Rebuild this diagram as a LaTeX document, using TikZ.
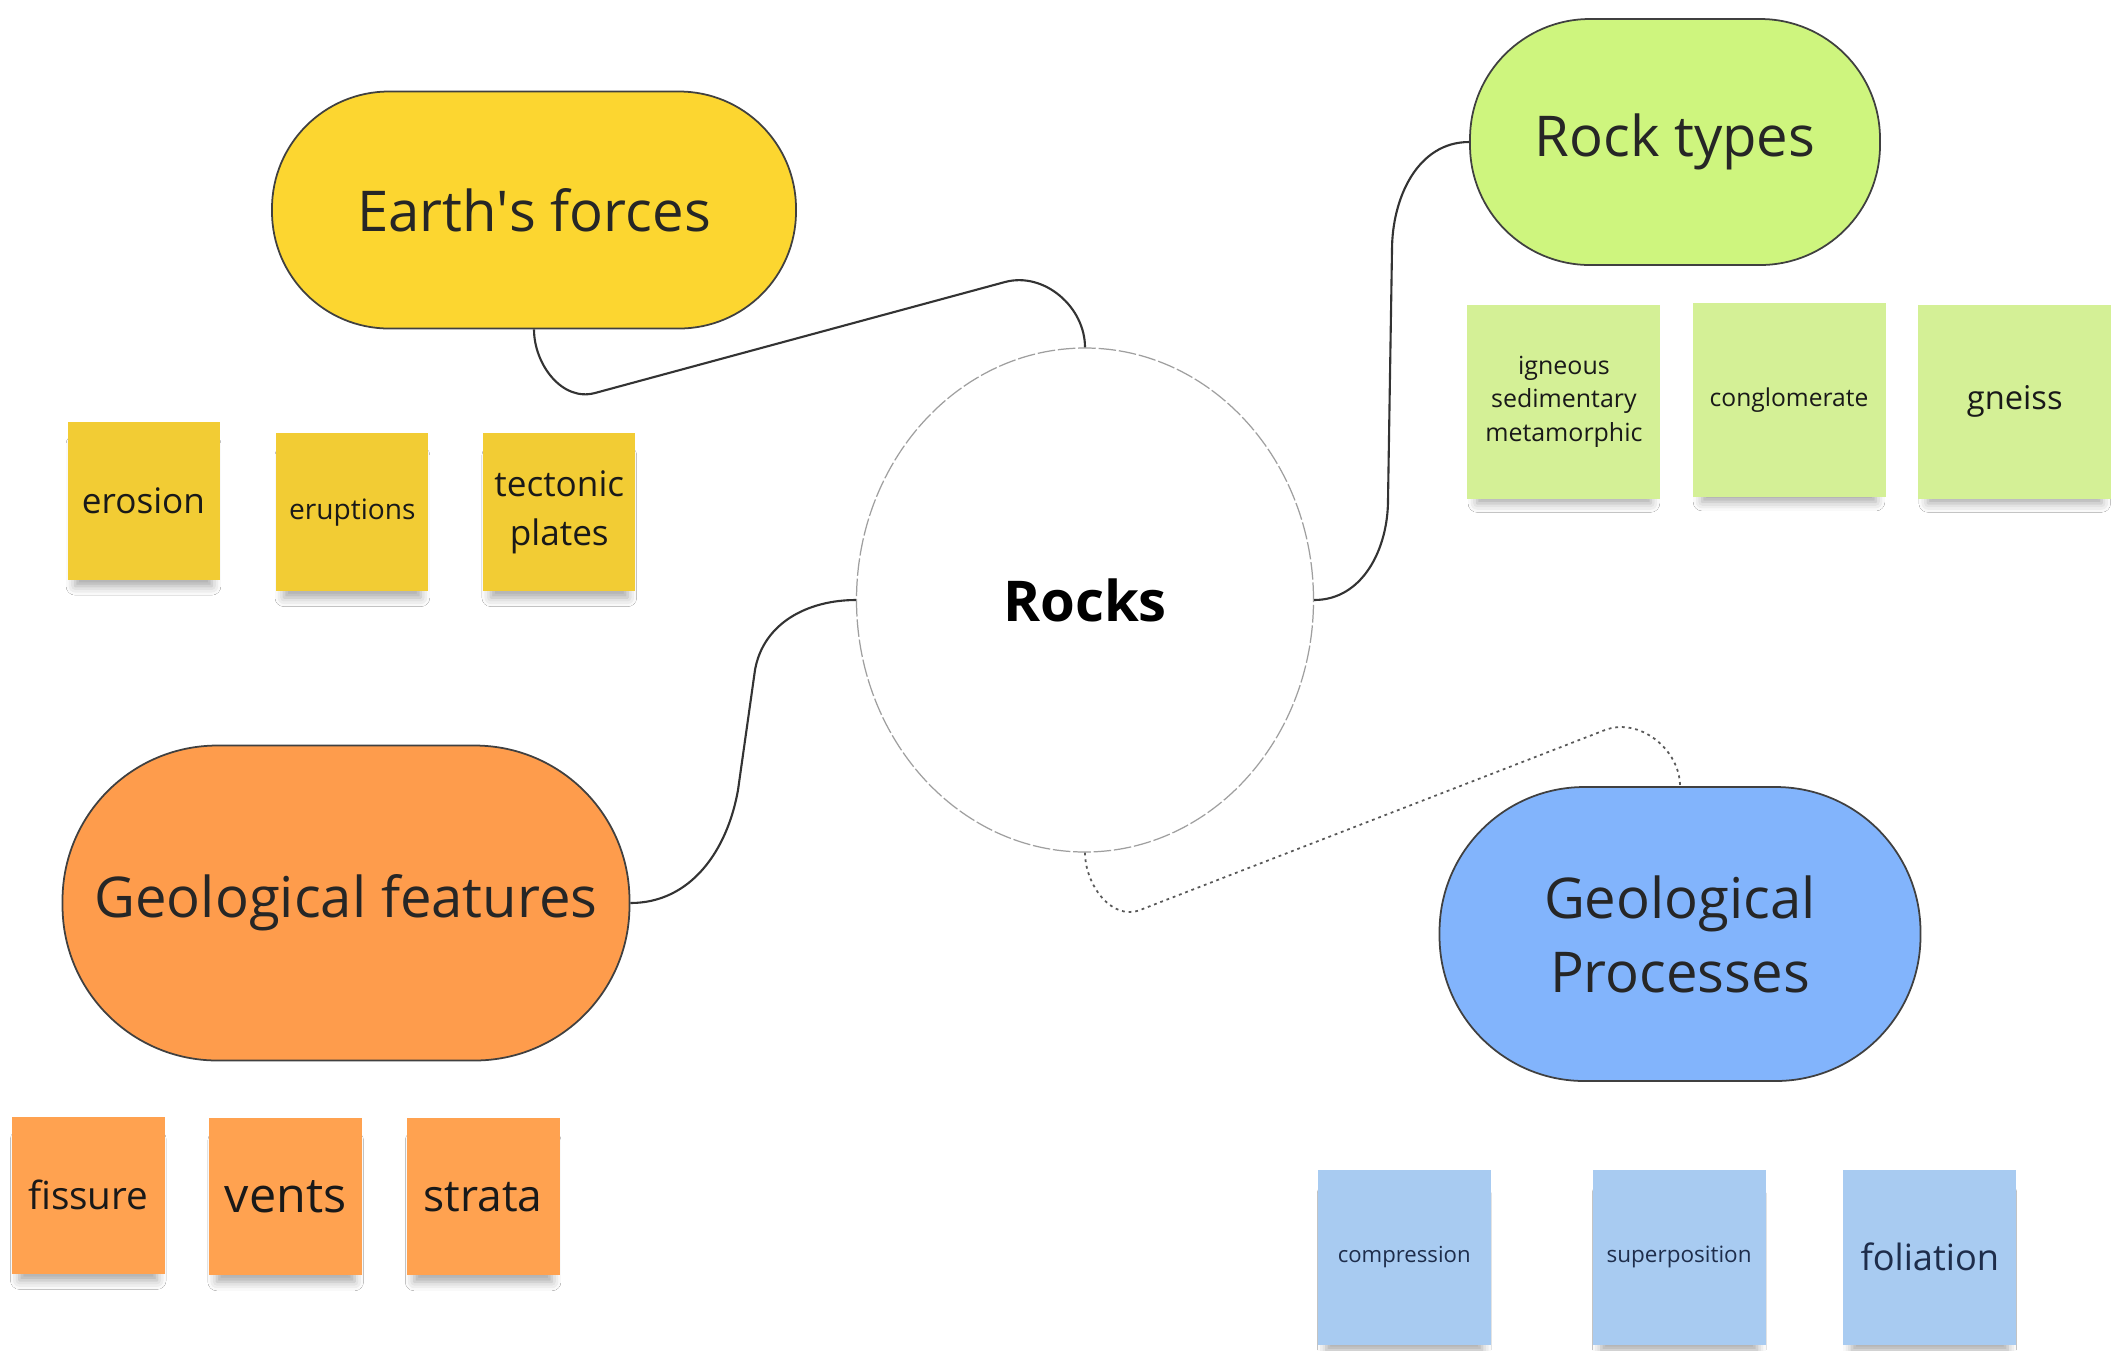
\documentclass[tikz,border=0pt]{standalone}
\usepackage{fontspec}
\setmainfont{Open Sans}
\usetikzlibrary{shapes.geometric,shadows.blur}

\definecolor{pillyellow}{RGB}{252,214,48}
\definecolor{noteyellow}{RGB}{242,204,52}
\definecolor{pillgreen}{RGB}{206,245,126}
\definecolor{notegreen}{RGB}{212,240,150}
\definecolor{pillorange}{RGB}{254,156,76}
\definecolor{noteorange}{RGB}{255,162,80}
\definecolor{pillblue}{RGB}{130,180,252}
\definecolor{noteblue}{RGB}{168,203,241}
\definecolor{inkblue}{RGB}{30,45,75}

\tikzset{
  topic/.style={rectangle,draw=black!75,line width=0.5pt,inner sep=0pt,align=center,
    text=black!85,font=\fontsize{16}{21}\selectfont},
  sticky/.style={rectangle,inner sep=0pt,align=center,text=black!90,
    blur shadow={shadow xshift=0pt,shadow yshift=-0.16cm,shadow scale=0.9,shadow opacity=35,shadow blur radius=0.1cm}},
  ynote/.style={sticky,fill=noteyellow,minimum width=1.52cm,minimum height=1.58cm},
  gnote/.style={sticky,fill=notegreen,minimum width=1.93cm,minimum height=1.94cm},
  onote/.style={sticky,fill=noteorange,minimum width=1.53cm,minimum height=1.57cm},
  bnote/.style={sticky,fill=noteblue,minimum width=1.73cm,minimum height=1.75cm,text=inkblue},
  link/.style={draw=black!80,line width=0.6pt},
  dotlink/.style={draw=black!65,line width=0.5pt,dash pattern=on 0.8pt off 1.1pt}
}

\begin{document}
\begin{tikzpicture}
  \fill[white] (0,0) rectangle (21.13,-13.50);
  \useasboundingbox (0,0) rectangle (21.13,-13.50);

  \node[topic,fill=pillyellow,minimum width=5.24cm,minimum height=2.37cm,rounded corners=1.17cm] (earth) at (5.34,-2.10) {Earth\textquotesingle s forces};
  \node[topic,fill=pillgreen,minimum width=4.10cm,minimum height=2.46cm,rounded corners=1.2cm] (types) at (16.75,-1.42) {Rock types};
  \node[topic,fill=pillorange,minimum width=5.67cm,minimum height=3.15cm,rounded corners=1.55cm] (features) at (3.46,-9.03) {Geological features};
  \node[topic,fill=pillblue,minimum width=4.81cm,minimum height=2.94cm,rounded corners=1.45cm] (processes) at (16.80,-9.34) {Geological\\Processes};
  \node[ellipse,draw=gray!75,dash pattern=on 5pt off 0.8pt,line width=0.35pt,fill=white,minimum width=4.57cm,minimum height=5.04cm,
    font=\bfseries\fontsize{16}{20}\selectfont] (rocks) at (10.85,-6.00) {Rocks};

  \node[ynote,font=\fontsize{10}{12}\selectfont] (erosion) at (1.435,-5.006) {erosion};
  \node[ynote,font=\fontsize{8}{10}\selectfont] (eruptions) at (3.524,-5.121) {eruptions};
  \node[ynote,font=\fontsize{10}{13.8}\selectfont] (tectonic) at (5.593,-5.121) {tectonic\\plates};

  \node[gnote,font=\fontsize{7.1}{9.6}\selectfont] (igneous) at (15.639,-4.016) {igneous\\sedimentary\\metamorphic};
  \node[gnote,font=\fontsize{7}{9}\selectfont] (conglomerate) at (17.890,-4.002) {conglomerate};
  \node[gnote,font=\fontsize{9.3}{11}\selectfont] (gneiss) at (20.147,-4.016) {gneiss};

  \node[onote,font=\fontsize{11}{13}\selectfont] (fissure) at (0.883,-11.953) {fissure};
  \node[onote,font=\fontsize{13.8}{16}\selectfont] (vents) at (2.857,-11.967) {vents};
  \node[onote,font=\fontsize{12.6}{15}\selectfont] (strata) at (4.831,-11.967) {strata};

  \node[bnote,font=\fontsize{6.3}{8}\selectfont] (compression) at (14.042,-12.573) {compression};
  \node[bnote,font=\fontsize{6.4}{8}\selectfont] (superposition) at (16.791,-12.573) {superposition};
  \node[bnote,font=\fontsize{10.3}{12}\selectfont] (foliation) at (19.298,-12.573) {foliation};

  \draw[link] (earth.south) to[out=-90,in=195] (5.95,-3.93) -- (10.05,-2.82) to[out=15,in=90] (rocks.north);
  \draw[link] (types.west) to[out=180,in=90] (13.92,-2.5) -- (13.88,-5.0) to[out=-90,in=0] (rocks.east);
  \draw[link] (features.east) to[out=0,in=-100] (7.38,-7.9) -- (7.55,-6.7) to[out=80,in=180] (rocks.west);
  \draw[dotlink] (rocks.south) to[out=-90,in=201] (11.4,-9.1) -- (16.05,-7.30) to[out=21,in=90] (processes.north);
\end{tikzpicture}
\end{document}
